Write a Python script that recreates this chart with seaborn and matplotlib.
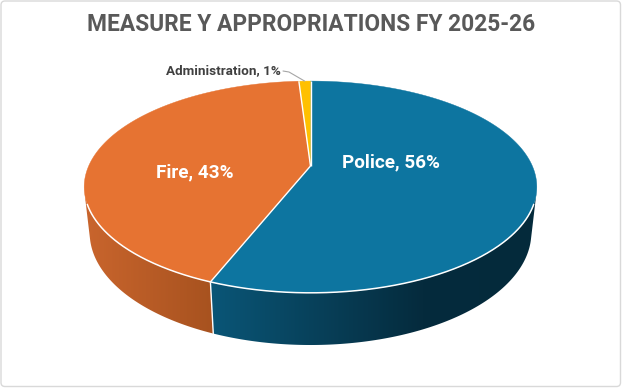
import numpy as np
import matplotlib
matplotlib.use("Agg")
import matplotlib.pyplot as plt
import seaborn as sns
from matplotlib.patches import Polygon, FancyBboxPatch
from matplotlib.colors import LinearSegmentedColormap

# ---- data ----
categories = ["Police", "Fire", "Administration"]
values = [56, 43, 1]
top_colors = ["#0D75A0", "#E67332", "#FFC000"]
side_gradients = [
    [(0.0, "#0A5677"), (0.65, "#052B3D"), (1.0, "#042A3B")],
    [(0.0, "#C9652D"), (1.0, "#A7521F")],
    [(0.0, "#D9A300"), (1.0, "#B08400")],
]
title = "MEASURE Y APPROPRIATIONS FY 2025-26"

sns.set_theme(style="white")
plt.rcParams['font.family'] = ['Roboto', 'DejaVu Sans']

W, H = 622, 388
fig = plt.figure(figsize=(W / 100, H / 100), dpi=100)
ax = fig.add_axes([0, 0, 1, 1])
ax.axis('off')

ax.add_patch(FancyBboxPatch((1, 1), W - 2.5, H - 2.5, boxstyle="round,pad=0,rounding_size=4",
                            fc="white", ec="#D9D9D9", lw=1.0, zorder=0))

# ---- perspective camera for a 3D pie ----
cx, cy0 = 310.5, 166.0
sphi = 0.4586
cphi = np.sqrt(1 - sphi ** 2)
Dcam, fcam, thick = 4.49, 996.0, 0.234


def proj(t_deg, z=0.0):
    t = np.radians(np.asarray(t_deg, dtype=float))
    X, Y = np.cos(t), np.sin(t)
    dist = Dcam + Y * cphi - z * sphi
    x = cx + fcam * X / dist
    y = cy0 - fcam * (Y * sphi + z * cphi) / dist
    return x, y


def top(t):
    return proj(t, 0.0)


def bot(t):
    return proj(t, -thick)


def silhouette(lo, hi):
    ts = np.linspace(lo, hi, 4001)
    x0, y0 = top(ts)
    x1, y1 = bot(ts)
    xa, ya = top(ts + 0.01)
    xb, yb = top(ts - 0.01)
    tx, ty = xa - xb, ya - yb
    gx, gy = x1 - x0, y1 - y0
    cr = gx * ty - gy * tx
    k = np.argmin(np.abs(cr))
    return ts[k]


t_sil_left = silhouette(-240, -150)
t_sil_right = silhouette(-30, 30)

total = float(sum(values))
starts, ends = [], []
a = 90.0
for v in values:
    starts.append(a)
    a -= 360.0 * v / total
    ends.append(a)

# ---- sides ----
for i, (s, e) in enumerate(zip(starts, ends)):
    for shift in (0.0, -360.0):
        ss, ee = s + shift, e + shift
        lo, hi = max(ee, t_sil_left), min(ss, t_sil_right)
        if hi <= lo:
            continue
        ts = np.linspace(lo, hi, 300)
        xt, yt = top(ts)
        xb, yb = bot(ts[::-1])
        verts = np.column_stack([np.concatenate([xt, xb]), np.concatenate([yt, yb])])
        poly = Polygon(verts, closed=True, transform=ax.transData, fc="none", ec="none")
        xmin, xmax = verts[:, 0].min(), verts[:, 0].max()
        ymin, ymax = verts[:, 1].min(), verts[:, 1].max()
        cmap = LinearSegmentedColormap.from_list(f"side{i}", side_gradients[i])
        grad = np.linspace(0, 1, 512)[None, :]
        im = ax.imshow(grad, cmap=cmap, extent=(xmin, xmax, ymax + 1, ymin - 1),
                       aspect="auto", interpolation="bilinear", zorder=2)
        im.set_clip_path(poly)

# white separators on the side
for s in starts:
    for tt in (s, s - 360.0):
        if t_sil_left < tt < t_sil_right:
            (x0, y0), (x1, y1) = top(tt), bot(tt)
            ax.plot([x0, x1], [y0, y1], color="white", lw=1.0, zorder=3)

# ---- top wedges ----
for i, (s, e) in enumerate(zip(starts, ends)):
    ts = np.linspace(s, e, 300)
    xs, ys = top(ts)
    verts = np.column_stack([np.concatenate([[cx], xs]), np.concatenate([[cy0], ys])])
    ax.add_patch(Polygon(verts, closed=True, fc=top_colors[i], ec=top_colors[i], lw=0.3,
                         zorder=4))
for s in starts:
    x1, y1 = top(s)
    ax.plot([cx, x1], [cy0, y1], color="white", lw=1.0, zorder=5, solid_capstyle="butt")

ts = np.linspace(t_sil_left + 6, t_sil_right - 6, 400)
xs, ys = top(ts)
ax.plot(xs, ys, color="white", lw=1.1, zorder=5)

# ---- labels ----
lab_text = [f"{c}, {v}%" for c, v in zip(categories, values)]
ax.text(390.5, 162, lab_text[0], color="white", fontsize=13.6, fontweight="bold",
        ha="center", va="center", zorder=6)
ax.text(195, 172, lab_text[1], color="white", fontsize=13.6, fontweight="bold",
        ha="center", va="center", zorder=6)
ax.text(281, 70.5, lab_text[2], color="#404040", fontsize=9.7, fontweight="bold",
        ha="right", va="center", zorder=6)
mid_admin = 0.5 * (starts[2] + ends[2])
axx, ayy = top(mid_admin)
ax.plot([283, 289, axx], [71, 72, ayy], color="#A6A6A6", lw=0.8, zorder=6)

ax.text(W / 2, 24.5, title, color="#595959", fontsize=16.4, fontweight="bold",
        ha="center", va="center", zorder=6)

ax.set_xlim(0, W)
ax.set_ylim(H, 0)
fig.savefig("out.png", dpi=100)
